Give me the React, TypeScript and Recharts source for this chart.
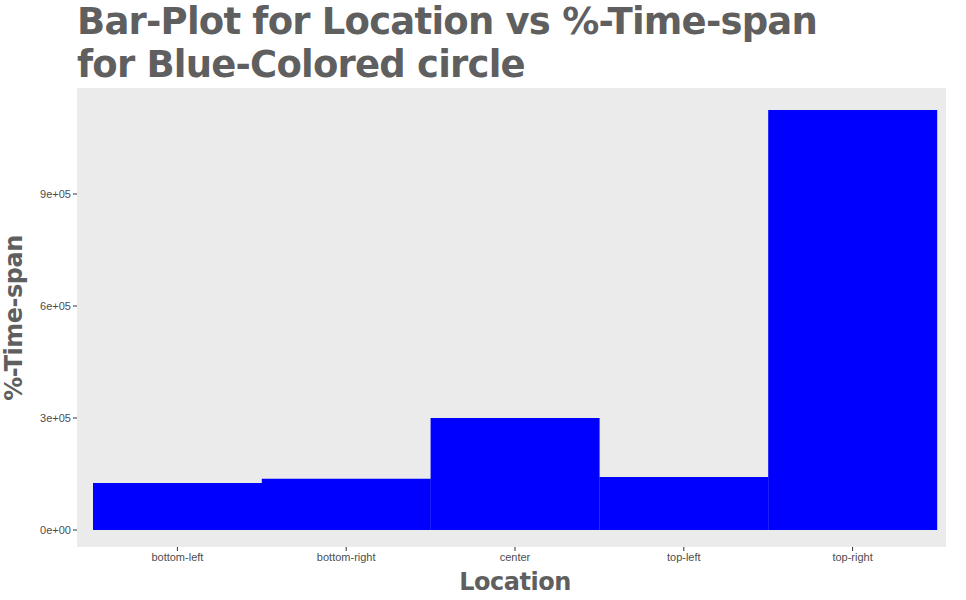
import React from "react";
import { BarChart, Bar, XAxis, YAxis, CartesianGrid } from "recharts";

const locations = ["bottom-left", "bottom-right", "center", "top-left", "top-right"];
const timeSpan = [126000, 137000, 300000, 142000, 1125000];
const yTicks = [0, 300000, 600000, 900000];
const yMinor = [150000, 450000, 750000, 1050000];
const yTickLabels = ["0e+00", "3e+05", "6e+05", "9e+05"];

const data = locations.map((loc, i) => ({ loc, value: timeSpan[i] }));

const font = "'DejaVu Sans', sans-serif";

export default function App() {
  return (
    <div style={{ position: "absolute", left: 0, top: 0, width: 966, height: 600, background: "#fff", fontFamily: font }}>
      <div style={{ position: "absolute", left: 77, top: 0, fontSize: 37, fontWeight: "bold", color: "#5f5f5f", lineHeight: "43px", letterSpacing: -0.8 }}>
        Bar-Plot for Location vs %-Time-span
        <br />
        for Blue-Colored circle
      </div>
      <BarChart width={966} height={600} data={data} barCategoryGap={0} margin={{ top: 88, right: 20, bottom: 0, left: 0 }}>
        <rect x={77} y={88} width={869} height={459} fill="#ebebeb" />
        <CartesianGrid stroke="#f5f5f5" strokeWidth={0.8} vertical={false} horizontalValues={yMinor} />
        <CartesianGrid stroke="#ffffff" strokeWidth={1.3} />
        <XAxis
          dataKey="loc"
          height={53}
          padding={{ left: 16, right: 9 }}
          axisLine={false}
          tickLine={{ stroke: "#333" }}
          tickSize={4}
          tick={{ fontSize: 11, fill: "#4d4d4d", fontFamily: "Liberation Sans, sans-serif" }}
        />
        <YAxis
          width={77}
          domain={[-45500, 1184000]}
          ticks={yTicks}
          tickFormatter={(v: number) => yTickLabels[yTicks.indexOf(v)]}
          axisLine={false}
          tickLine={{ stroke: "#333" }}
          tickSize={4}
          tick={{ fontSize: 11, fill: "#4d4d4d", fontFamily: "Liberation Sans, sans-serif" }}
        />
        <Bar dataKey="value" fill="#0000ff" isAnimationActive={false} />
      </BarChart>
      <div style={{ position: "absolute", left: 0, width: 1030, top: 568, textAlign: "center", fontSize: 24, fontWeight: "bold", color: "#5f5f5f", letterSpacing: -0.5 }}>
        Location
      </div>
      <div style={{ position: "absolute", left: 14, top: 318, width: 0, height: 0 }}>
        <div style={{ position: "absolute", transform: "translate(-50%, -50%) rotate(-90deg)", whiteSpace: "nowrap", fontSize: 24, fontWeight: "bold", color: "#5f5f5f", letterSpacing: -0.5 }}>
          %-Time-span
        </div>
      </div>
    </div>
  );
}
